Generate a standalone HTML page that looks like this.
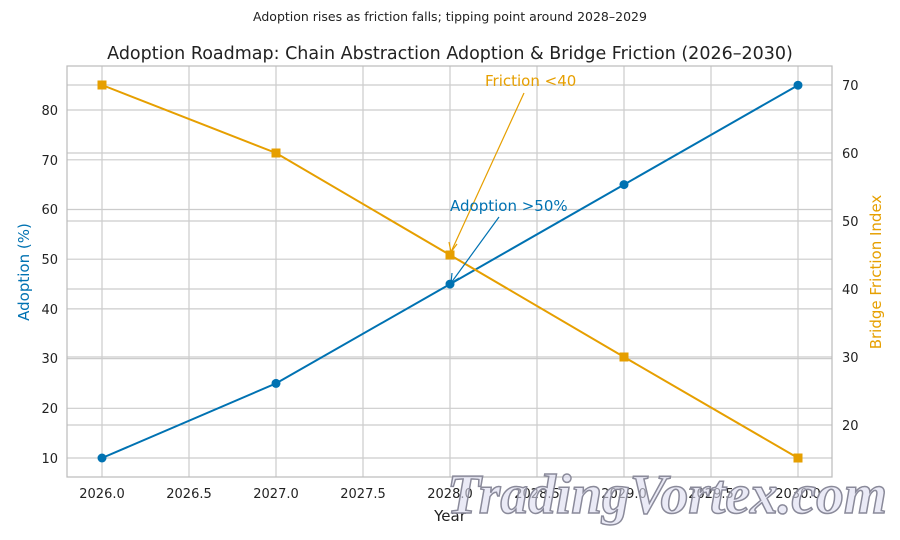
<!DOCTYPE html>
<html><head><meta charset="utf-8"><style>body{margin:0;background:#fff}svg{display:block}text{font-family:"DejaVu Sans","Liberation Sans",sans-serif}</style></head><body>
<svg width="900" height="540" viewBox="0 0 900 540" xmlns="http://www.w3.org/2000/svg">
<rect width="900" height="540" fill="#fff"/>
<text x="450" y="21" font-size="12.5" text-anchor="middle" fill="#222">Adoption rises as friction falls; tipping point around 2028–2029</text>
<text x="450" y="59" font-size="17.5" text-anchor="middle" fill="#222">Adoption Roadmap: Chain Abstraction Adoption &amp; Bridge Friction (2026–2030)</text>
<g stroke="#cccccc" stroke-width="1.2">
<line x1="102" y1="66" x2="102" y2="477"/><line x1="189" y1="66" x2="189" y2="477"/><line x1="276" y1="66" x2="276" y2="477"/><line x1="363" y1="66" x2="363" y2="477"/><line x1="450" y1="66" x2="450" y2="477"/><line x1="537" y1="66" x2="537" y2="477"/><line x1="624" y1="66" x2="624" y2="477"/><line x1="711" y1="66" x2="711" y2="477"/><line x1="798" y1="66" x2="798" y2="477"/>
<line x1="67" y1="458" x2="832" y2="458"/><line x1="67" y1="408.3" x2="832" y2="408.3"/><line x1="67" y1="358.6" x2="832" y2="358.6"/><line x1="67" y1="308.9" x2="832" y2="308.9"/><line x1="67" y1="259.2" x2="832" y2="259.2"/><line x1="67" y1="209.5" x2="832" y2="209.5"/><line x1="67" y1="159.8" x2="832" y2="159.8"/><line x1="67" y1="110" x2="832" y2="110"/>
<line x1="67" y1="425" x2="832" y2="425"/><line x1="67" y1="357" x2="832" y2="357"/><line x1="67" y1="289" x2="832" y2="289"/><line x1="67" y1="221" x2="832" y2="221"/><line x1="67" y1="153" x2="832" y2="153"/><line x1="67" y1="85" x2="832" y2="85"/>
</g>
<rect x="67" y="66" width="765" height="411" fill="none" stroke="#bbb" stroke-width="1.2"/>
<g font-size="13" fill="#222" text-anchor="end">
<text x="58" y="463">10</text><text x="58" y="413">20</text><text x="58" y="363">30</text><text x="58" y="314">40</text><text x="58" y="264">50</text><text x="58" y="214">60</text><text x="58" y="165">70</text><text x="58" y="115">80</text>
</g>
<g font-size="13" fill="#222">
<text x="842" y="430">20</text><text x="842" y="362">30</text><text x="842" y="294">40</text><text x="842" y="226">50</text><text x="842" y="158">60</text><text x="842" y="90">70</text>
</g>
<g font-size="13" fill="#222" text-anchor="middle">
<text x="102" y="498">2026.0</text><text x="189" y="498">2026.5</text><text x="276" y="498">2027.0</text><text x="363" y="498">2027.5</text><text x="450" y="498">2028.0</text><text x="537" y="498">2028.5</text><text x="624" y="498">2029.0</text><text x="711" y="498">2029.5</text><text x="798" y="498">2030.0</text>
</g>
<text x="450" y="521" font-size="15" text-anchor="middle" fill="#222">Year</text>
<text transform="translate(29,272) rotate(-90)" font-size="15" text-anchor="middle" fill="#0072b2">Adoption (%)</text>
<text transform="translate(881,272) rotate(-90)" font-size="15" text-anchor="middle" fill="#e69f00">Bridge Friction Index</text>
<polyline points="102,458 276,383.4 450,284.1 624,184.6 798,85.2" fill="none" stroke="#0072b2" stroke-width="2"/>
<g fill="#0072b2"><circle cx="102" cy="458" r="4.5"/><circle cx="276" cy="383.4" r="4.5"/><circle cx="450" cy="284.1" r="4.5"/><circle cx="624" cy="184.6" r="4.5"/><circle cx="798" cy="85.2" r="4.5"/></g>
<polyline points="102,85 276,153 450,255 624,357 798,458" fill="none" stroke="#e69f00" stroke-width="2"/>
<g fill="#e69f00"><rect x="97.5" y="80.5" width="9" height="9"/><rect x="271.5" y="148.5" width="9" height="9"/><rect x="445.5" y="250.5" width="9" height="9"/><rect x="619.5" y="352.5" width="9" height="9"/><rect x="793.5" y="453.5" width="9" height="9"/></g>
<line x1="524" y1="93" x2="451" y2="252" stroke="#e69f00" stroke-width="1.2"/>
<path d="M451,252 L449,242 M451,252 L457,244" stroke="#e69f00" stroke-width="1.2" fill="none"/>
<line x1="499" y1="217" x2="451" y2="283" stroke="#0072b2" stroke-width="1.2"/>
<path d="M451,283 L452,273 M451,283 L459,278" stroke="#0072b2" stroke-width="1.2" fill="none"/>
<text x="485" y="86" font-size="15" fill="#e69f00">Friction &lt;40</text>
<text x="450" y="211" font-size="15" fill="#0072b2">Adoption &gt;50%</text>
<text x="667" y="513" text-anchor="middle" textLength="440" lengthAdjust="spacingAndGlyphs" style="font-family:'Liberation Serif',serif;font-style:italic;font-weight:bold;font-size:56px;fill:#dcdcf0;fill-opacity:0.6;stroke:#8a8a9a;stroke-width:1.5">TradingVortex.com</text>
</svg>
</body></html>
